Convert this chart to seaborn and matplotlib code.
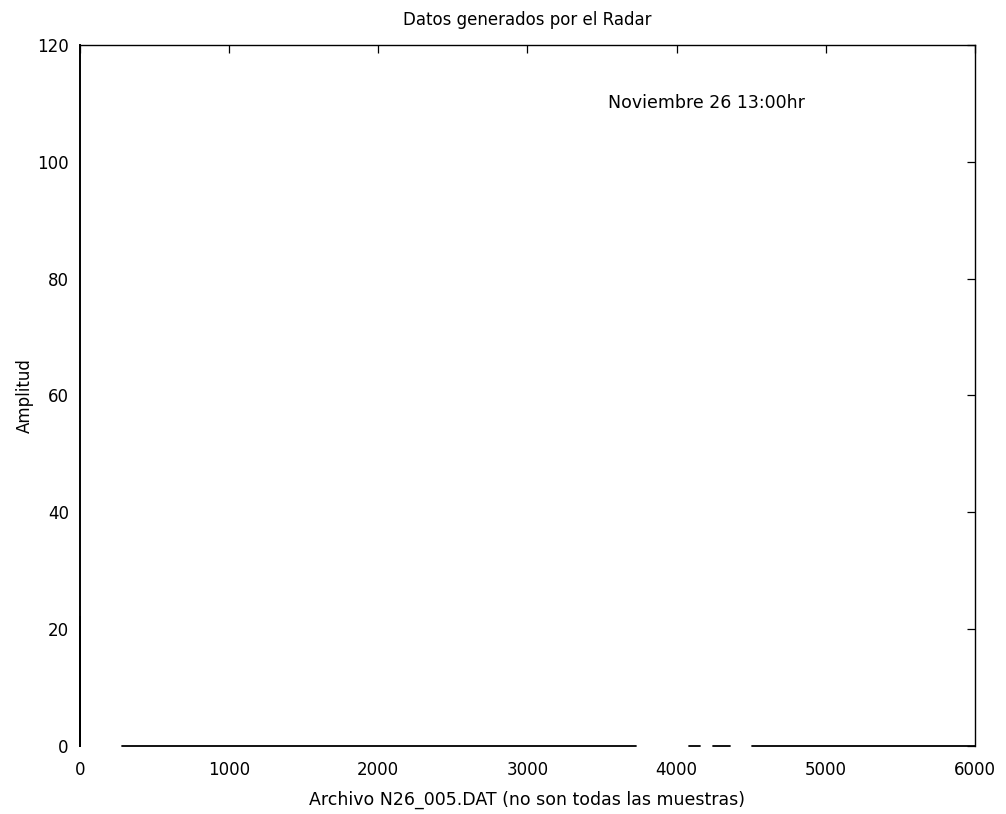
#!/usr/bin/env python
# -*- coding: utf-8 -*-

"""Datos generados por el Radar - trazo de amplitud (copia del grafico escaneado)."""

import numpy as np
import pandas as pd
import seaborn as sns
import matplotlib.pyplot as plt

# %% Datos (muestras con huecos en el trazo).
muestra = [0, 0, 0, np.nan, 280, 3730, np.nan,
           4085, 4160, np.nan, 4245, 4360, np.nan, 4505, 6000]
amplitud = [0, 22, 0, np.nan, 0, 0, np.nan,
            0, 0, np.nan, 0, 0, np.nan, 0, 0]

x_ticks = [0, 1000, 2000, 3000, 4000, 5000, 6000]
y_ticks = [0, 20, 40, 60, 80, 100, 120]

titulo = "Datos generados por el Radar"
etiqueta_x = "Archivo N26_005.DAT (no son todas las muestras)"
etiqueta_y = "Amplitud"
nota = "Noviembre 26 13:00hr"

radar_df = pd.DataFrame({"muestra": muestra, "amplitud": amplitud})

# %% Grafico.
sns.set_theme(style="white")
plt.rcParams["font.family"] = ["DejaVu Sans"]

fig = plt.figure(figsize=(10.06, 8.14), dpi=100)
ax = fig.add_axes([0.0795, 0.0835, 0.8895, 0.8615])

ax.plot(radar_df["muestra"], radar_df["amplitud"], color="black",
        linewidth=1.3, clip_on=False)

ax.set_xlim(0, 6000)
ax.set_ylim(0, 120)
ax.set_xticks(x_ticks)
ax.set_yticks(y_ticks)
ax.tick_params(direction="in", length=6, width=0.9, color="black",
               top=True, right=True, labelsize=12, labelcolor="black")
ax.tick_params(axis="x", pad=11)
ax.tick_params(axis="y", pad=8)

for side in ["top", "right", "left"]:
    ax.spines[side].set_color("black")
    ax.spines[side].set_linewidth(1.0)
ax.spines["left"].set_linewidth(1.4)
ax.spines["bottom"].set_visible(False)

ax.set_title(titulo, fontsize=12, color="black", pad=14)
ax.set_xlabel(etiqueta_x, fontsize=12.5, color="black", labelpad=8)
ax.set_ylabel(etiqueta_y, fontsize=12, color="black", labelpad=2)
ax.text(3540, 110, nota, fontsize=12.5, color="black", va="center", ha="left")

fig.savefig("out.png", dpi=100, facecolor="white")
